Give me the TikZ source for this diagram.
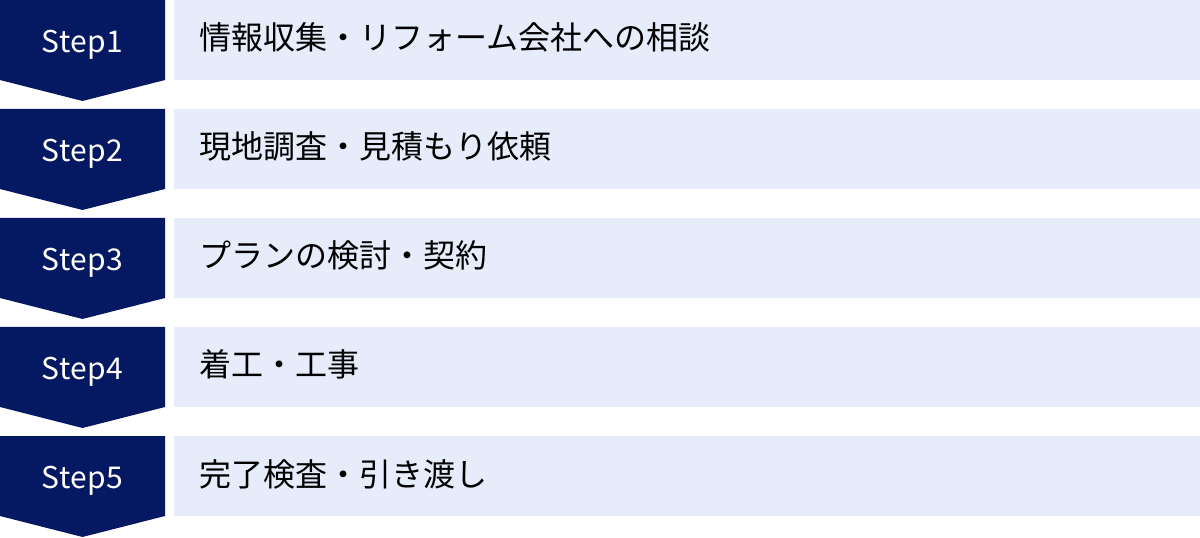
\documentclass[tikz,border=0pt]{standalone}
\usepackage{fontspec}
\setmainfont{Noto Sans CJK JP}
\newfontfamily\tagfont[LetterSpace=2]{Noto Sans CJK JP}
\definecolor{navy}{RGB}{5,24,98}
\definecolor{pale}{RGB}{230,236,250}
\begin{document}
\begin{tikzpicture}[x=1bp,y=-1bp,
  steptag/.style={text=white,font=\tagfont\fontsize{30bp}{34bp}\selectfont,inner sep=0pt,anchor=base},
  steptext/.style={text=black,font=\fontsize{32bp}{36bp}\selectfont,inner sep=0pt,anchor=base west}]
\useasboundingbox (0,0) rectangle (1200,538);
\foreach \i/\lab/\txt in {0/Step1/情報収集・リフォーム会社への相談,
                          1/Step2/現地調査・見積もり依頼,
                          2/Step3/プランの検討・契約,
                          3/Step4/着工・工事,
                          4/Step5/完了検査・引き渡し}{
  \pgfmathsetmacro{\t}{109*\i}
  \fill[navy] (0,\t) -- (165,\t) -- (165,\t+80) -- (82.5,\t+101) -- (0,\t+80) -- cycle;
  \fill[pale] (174,\t) rectangle (1200,\t+80);
  \node[steptag] (tag\i) at (82.5,\t+52.5) {\lab};
  \node[steptext] (txt\i) at (199,\t+50) {\txt};
}
\end{tikzpicture}
\end{document}
